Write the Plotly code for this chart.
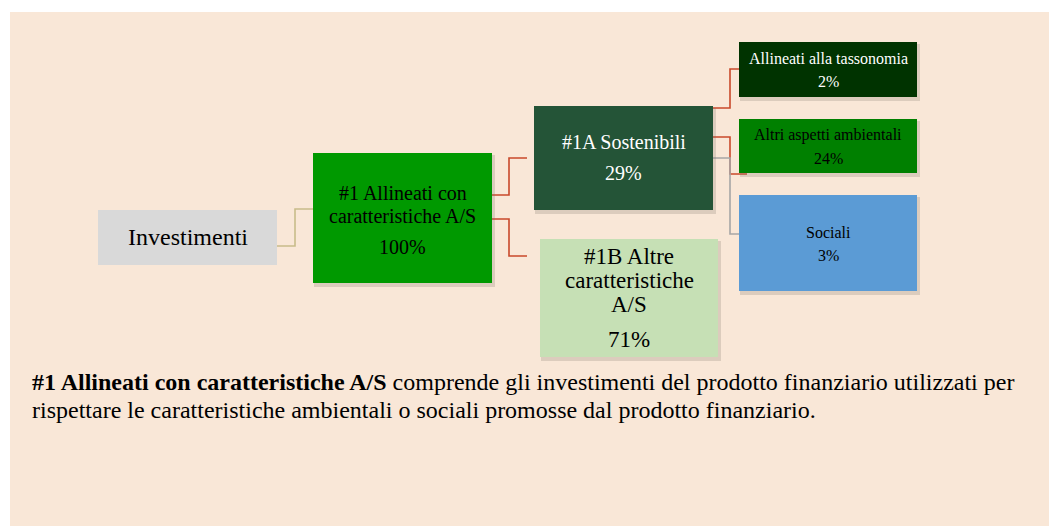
import plotly.graph_objects as go

# dati dello schema
nodi = ['Investimenti', '#1 Allineati con<br>caratteristiche A/S', '#1A Sostenibili',
        '#1B Altre<br>caratteristiche<br>A/S', 'Allineati alla tassonomia',
        'Altri aspetti ambientali', 'Sociali']
percentuali = ['', '100%', '29%', '71%', '2%', '24%', '3%']
collegamenti = [(0, 1), (1, 2), (1, 3), (2, 4), (2, 5), (2, 6)]

testo_bold = '#1 Allineati con caratteristiche A/S'
testo_riga1 = ' comprende gli investimenti del prodotto finanziario utilizzati per'
testo_riga2 = 'rispettare le caratteristiche ambientali o sociali promosse dal prodotto finanziario.'

# posizione dei box (x0, y0, x1, y1) in pixel
box = [(98, 210, 277, 265), (313, 153, 492, 283), (534, 106, 713, 210),
       (540, 239, 718, 357), (739, 42, 917, 97), (739, 119, 917, 173),
       (739, 195, 917, 291)]
colori = ['#D9D9D9', '#009900', '#245437', '#C6E0B5', '#003300', '#008000', '#5B9BD5']
colori_testo = ['black', 'black', 'white', 'black', 'white', 'black', 'black']
font_size = [24, 20, 20, 23, 16, 16, 16]
y_label = [237, 193, 142, 256, 58, 135, 232]   # centro della prima riga
passo_riga = [0, 23, 0, 24, 0, 0, 0]
y_pct = [None, 247, 173, 339, 81, 158, 255]

# percorsi dei connettori: (x uscita, y uscita, x gomito, y arrivo, x arrivo)
percorsi = [(277, 246, 295, 209, 313), (492, 195, 509, 158, 527), (492, 219, 509, 256, 527),
            (713, 108, 730, 69, 739), (713, 137, 730, 174, 747), (713, 158, 730, 234, 739)]
colori_linee = ['#C8BC8A', '#C9492B', '#C9492B', '#C9492B', '#C9492B', '#A6A6A6']

FONT = 'Liberation Serif'

# la pagina html ha un margine di 8 px
OFF = 8

fig = go.Figure()
shapes = []
annotazioni = []

# sfondo
shapes.append(dict(type='rect', x0=10, y0=12, x1=1057, y1=526,
                   fillcolor='#F9E7D7', line_width=0, layer='below'))

for (a, b), p, c in zip(collegamenti, percorsi, colori_linee):
    x0, y0, xm, y1, x1 = p
    fig.add_trace(go.Scatter(x=[x0, xm, xm, x1], y=[y0, y0, y1, y1], mode='lines',
                             line=dict(color=c, width=1.6), hoverinfo='skip',
                             showlegend=False))

for i, nome in enumerate(nodi):
    x0, y0, x1, y1 = box[i]
    if i > 0:
        shapes.append(dict(type='rect', x0=x0 + 1, y0=y0 + 2, x1=x1 + 3, y1=y1 + 4,
                           fillcolor='rgba(120,110,100,0.22)', line_width=0))
    shapes.append(dict(type='rect', x0=x0, y0=y0, x1=x1, y1=y1,
                       fillcolor=colori[i], line_width=0))
    font = dict(family=FONT, size=font_size[i], color=colori_testo[i])
    for k, riga in enumerate(nome.split('<br>')):
        annotazioni.append(dict(x=(x0 + x1) / 2, y=y_label[i] + k * passo_riga[i], text=riga,
                                showarrow=False, font=font,
                                xanchor='center', yanchor='middle'))
    if percentuali[i]:
        annotazioni.append(dict(x=(x0 + x1) / 2, y=y_pct[i], text=percentuali[i],
                                showarrow=False, font=font,
                                xanchor='center', yanchor='middle'))

annotazioni.append(dict(x=30, y=382, text='<b>' + testo_bold + '</b>' + testo_riga1,
                        showarrow=False, xanchor='left', yanchor='middle',
                        font=dict(family=FONT, size=24, color='black')))
annotazioni.append(dict(x=30, y=410, text=testo_riga2, showarrow=False,
                        xanchor='left', yanchor='middle',
                        font=dict(family=FONT, size=24, color='black')))

fig.update_layout(
    width=1057 - OFF, height=526 - OFF,
    margin=dict(l=0, r=0, t=0, b=0),
    paper_bgcolor='white', plot_bgcolor='white',
    xaxis=dict(range=[OFF, 1057], visible=False, fixedrange=True),
    yaxis=dict(range=[526, OFF], visible=False, fixedrange=True),
    shapes=shapes, annotations=annotazioni,
)

fig.write_html('out.html')
